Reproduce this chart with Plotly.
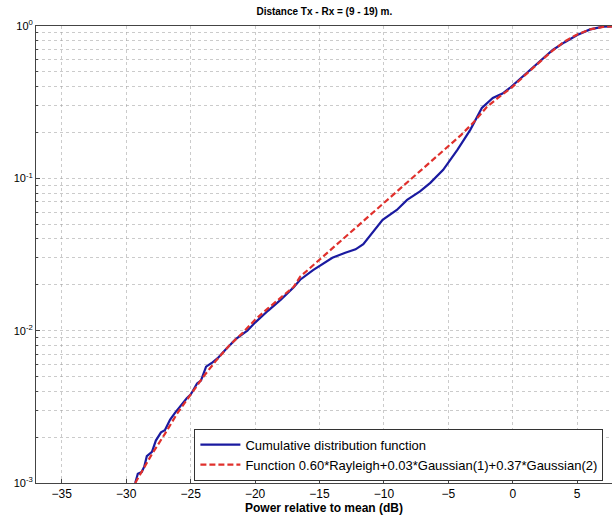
import plotly.graph_objects as go

# Measured CDF (blue)
cdf_db = [-29.3, -29.1, -28.8, -28.6, -28.4, -28.0, -27.7, -27.3, -27.0, -26.6, -26.2, -25.8,
          -25.3, -25.0, -24.5, -24.2, -23.8, -23.3, -22.9, -22.3, -21.5, -20.6, -20.0, -19.0,
          -18.0, -17.0, -16.5, -15.5, -14.0, -13.0, -12.2, -11.6, -10.8, -10.1, -9.0, -8.2,
          -7.2, -6.4, -5.4, -4.3, -3.3, -2.4, -1.55, -0.8, -0.23, 0.5, 1.1, 2.0, 3.1, 4.0,
          5.0, 6.0, 6.5, 7.0, 7.7]
cdf_p = [0.00100, 0.00115, 0.00118, 0.00128, 0.00150, 0.00160, 0.00190, 0.00215, 0.00222, 0.00260,
         0.00290, 0.00320, 0.00360, 0.00380, 0.00450, 0.00470, 0.00580, 0.00620, 0.00660, 0.00750,
         0.00880, 0.01000, 0.01130, 0.01350, 0.01600, 0.01930, 0.02160, 0.02500, 0.03010, 0.03250,
         0.03420, 0.03700, 0.04500, 0.05340, 0.06200, 0.07220, 0.08200, 0.09340, 0.11370, 0.15400,
         0.20800, 0.29000, 0.33700, 0.36000, 0.39200, 0.44500, 0.49000, 0.58000, 0.69600, 0.78000,
         0.87300, 0.95000, 0.97500, 0.99000, 0.99500]

# Fitted function (red dashed)
fit_db = [-29.3, -28.0, -27.0, -26.0, -25.0, -24.0, -23.0, -22.0, -21.0, -20.0, -19.0, -18.0,
          -17.0, -16.5, -15.0, -12.0, -10.0, -8.0, -6.0, -4.0, -3.0, -2.0, -1.0, 0.0, 1.0,
          2.0, 3.0, 4.0, 5.0, 6.0, 7.0, 7.7]
fit_p = [0.00100, 0.00155, 0.00210, 0.00290, 0.00380, 0.00500, 0.00640, 0.00800, 0.00960, 0.01180,
         0.01400, 0.01650, 0.01940, 0.02260, 0.02920, 0.04900, 0.06900, 0.09700, 0.13700, 0.19300,
         0.23500, 0.29500, 0.34500, 0.40000, 0.48000, 0.57000, 0.68000, 0.79000, 0.88000, 0.95000,
         0.98500, 0.99500]

x_ticks = [-35, -30, -25, -20, -15, -10, -5, 0, 5]
y_ticks = [1e-3, 1e-2, 1e-1, 1e0]
y_ticktext = ["10<sup>-3</sup>", "10<sup>-2</sup>", "10<sup>-1</sup>", "10<sup>0</sup>"]

minor_vals = [m * d for d in [1e-3, 1e-2, 1e-1] for m in range(2, 10)]

fig = go.Figure()
fig.add_trace(go.Scatter(x=cdf_db, y=cdf_p, mode="lines",
                         name="Cumulative distribution function",
                         line=dict(color="#1a1aa0", width=2.2)))
fig.add_trace(go.Scatter(x=fit_db, y=fit_p, mode="lines",
                         name="Function 0.60*Rayleigh+0.03*Gaussian(1)+0.37*Gaussian(2)",
                         line=dict(color="#e0302c", width=2.2, dash="6px,3px")))

font = "Arial, Liberation Sans, sans-serif"
grid = "rgba(160,160,160,0.55)"
fig.update_layout(
    width=612, height=526,
    margin=dict(l=36, r=0, t=26, b=43),
    paper_bgcolor="white", plot_bgcolor="white",
    font=dict(family=font, size=11, color="black"),
    title=dict(text="<b>Distance Tx - Rx = (9 - 19) m.</b>", x=0.53, xanchor="center",
               y=0.985, yanchor="top", font=dict(size=10)),
    showlegend=True,
    legend=dict(x=0.275, y=0.005, xanchor="left", yanchor="bottom",
                bordercolor="#333", borderwidth=1, bgcolor="white",
                font=dict(size=13), tracegroupgap=0, itemwidth=40),
)
fig.update_xaxes(range=[-37, 7.7], tickvals=x_ticks, ticks="inside", ticklen=4,
                 showgrid=True, gridcolor=grid, griddash="dot", gridwidth=1,
                 showline=True, linecolor="#444", mirror=True, zeroline=False,
                 title=dict(text="<b>Power relative to mean (dB)</b>", standoff=2,
                            font=dict(size=12)),
                 tickfont=dict(size=12))
fig.update_yaxes(type="log", range=[-3, 0], tickvals=y_ticks, ticktext=y_ticktext,
                 ticks="inside", ticklen=4,
                 showgrid=True, gridcolor=grid, griddash="dot", gridwidth=1,
                 minor=dict(tickvals=minor_vals, showgrid=True, gridcolor=grid,
                            griddash="dot", ticks="inside", ticklen=2),
                 showline=True, linecolor="#444", mirror=True,
                 tickfont=dict(size=11))

fig.write_html("out.html")
